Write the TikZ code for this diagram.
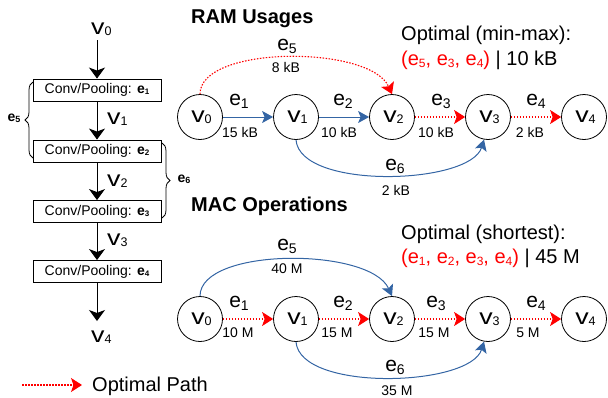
\documentclass[tikz,border=0pt]{standalone}
\usepackage{fontspec}
\setmainfont{Liberation Sans}
\usepackage{graphicx}
\usetikzlibrary{arrows.meta,decorations.pathreplacing}
\definecolor{myblue}{RGB}{52,101,164}
\definecolor{myred}{RGB}{255,0,0}
\newcommand\fs[1]{\fontsize{#1}{#1}\selectfont}
\newcommand\vsub[1]{{\fs{22}\scalebox{1.22}[1]{v}}\raisebox{-1pt}{\fs{12.5}#1}}
\newcommand\esub[1]{{\fs{21}e}\raisebox{-3pt}{\fs{14}#1}}
\newcommand\eopt[1]{e\raisebox{-2pt}{\fs{12}#1}}
\newcommand\ebox[1]{\textbf{e}\raisebox{-1pt}{\fs{8}\textbf{#1}}}
\newcommand\ebr[1]{{\fs{14}\textbf{e}}\raisebox{-1pt}{\fs{9}\textbf{#1}}}
\begin{document}
\begin{tikzpicture}[x=1pt,y=-1pt,
  vnode/.style={circle,draw,line width=0.8pt,minimum size=45pt,inner sep=0pt},
  convbox/.style={draw,line width=0.9pt,minimum width=128pt,minimum height=22pt,inner sep=0pt,font=\fs{14}},
  flow/.style={line width=1pt,-{Stealth[length=11pt,width=16pt,inset=3pt]}},
  blueedge/.style={myblue,line width=1pt,-{Stealth[length=11pt,width=12pt,inset=2.5pt]}},
  optedge/.style={draw=myred,line width=1.1pt,dash pattern=on 1.5pt off 1.5pt,-{Stealth[length=11pt,width=14pt,inset=2.5pt,fill=myred]}},
  elab/.style={anchor=base,inner sep=0pt},
  vallab/.style={anchor=base,inner sep=0pt,font=\fs{14}},
  txt/.style={anchor=base west,inner sep=0pt,font=\fs{20}},
  ttl/.style={anchor=base west,inner sep=0pt,font=\fs{20}\bfseries},
  brace/.style={line width=0.8pt,decorate,decoration={brace,amplitude=8pt}}
]
\useasboundingbox (0,0) rectangle (608,397);

% ---------- left column ----------
\node[anchor=base west,inner sep=0pt] (lv0) at (91,34) {\vsub{0}};
\coordinate (a0) at (97,40);
\node[convbox] (b1) at (97,90) {Conv/Pooling: \ebox{1}};
\node[anchor=base west,inner sep=0pt] (lv1) at (107,124) {\vsub{1}};
\node[convbox] (b2) at (97,151) {Conv/Pooling: \ebox{2}};
\node[anchor=base west,inner sep=0pt] (lv2) at (107,186) {\vsub{2}};
\node[convbox] (b3) at (97,211.5) {Conv/Pooling: \ebox{3}};
\node[anchor=base west,inner sep=0pt] (lv3) at (107,245) {\vsub{3}};
\node[convbox] (b4) at (97,271.5) {Conv/Pooling: \ebox{4}};
\coordinate (a5) at (97,321);
\node[anchor=base west,inner sep=0pt] (lv4) at (91,342) {\vsub{4}};
\draw[flow] (a0) -- (b1.north);
\draw[flow] (b1.south) -- (b2.north);
\draw[flow] (b2.south) -- (b3.north);
\draw[flow] (b3.south) -- (b4.north);
\draw[flow] (b4.south) -- (a5);

\coordinate (br5a) at (33,158);
\coordinate (br5b) at (33,82);
\draw[brace] (br5a) -- (br5b);
\node[inner sep=0pt] (le5) at (14,118) {\ebr{5}};
\coordinate (br6a) at (162,143);
\coordinate (br6b) at (162,218);
\draw[brace] (br6a) -- (br6b);
\node[inner sep=0pt] (le6) at (184,179) {\ebr{6}};

% ---------- RAM usages ----------
\node[ttl] (t1) at (191,23) {RAM Usages};
\node[txt] (o1) at (401,40) {Optimal (min-max):};
\node[txt] (o1b) at (401,65) {\textcolor{myred}{(\eopt{5}, \eopt{3}, \eopt{4})} | 10 kB};

\node[vnode] (n0) at (200,117) {\hspace{3pt}\vsub{0}};
\node[vnode] (n1) at (296,117) {\hspace{3pt}\vsub{1}};
\node[vnode] (n2) at (392,117) {\hspace{3pt}\vsub{2}};
\node[vnode] (n3) at (488,117) {\hspace{3pt}\vsub{3}};
\node[vnode] (n4) at (584,117) {\hspace{3pt}\vsub{4}};

\draw[blueedge] (n0) -- (n1);
\draw[blueedge] (n1) -- (n2);
\draw[optedge] (n2) -- (n3);
\draw[optedge] (n3) -- (n4);
\draw[optedge] (n0.north) .. controls (200,45) and (370,45) .. (n2.north);
\draw[blueedge] (n1.south) .. controls (300,190) and (470,185) .. (n3.260);

\node[elab] (r1) at (239,105) {\esub{1}};
\node[vallab] (r1v) at (240,137) {15 kB};
\node[elab] (r2) at (343,105) {\esub{2}};
\node[vallab] (r2v) at (339,137) {10 kB};
\node[elab] (r3) at (441,105) {\esub{3}};
\node[vallab] (r3v) at (436,137) {10 kB};
\node[elab] (r4) at (536,105) {\esub{4}};
\node[vallab] (r4v) at (530,137) {2 kB};
\node[elab] (r5) at (287,50) {\esub{5}};
\node[vallab] (r5v) at (286,72) {8 kB};
\node[elab] (r6) at (395,170) {\esub{6}};
\node[vallab] (r6v) at (396,195) {2 kB};

% ---------- MAC operations ----------
\node[ttl] (t2) at (191,211) {MAC Operations};
\node[txt] (o2) at (401,239) {Optimal (shortest):};
\node[txt] (o2b) at (401,263) {\textcolor{myred}{(\eopt{1}, \eopt{2}, \eopt{3}, \eopt{4})} | 45 M};

\node[vnode] (m0) at (200,319) {\hspace{3pt}\vsub{0}};
\node[vnode] (m1) at (296,319) {\hspace{3pt}\vsub{1}};
\node[vnode] (m2) at (392,319) {\hspace{3pt}\vsub{2}};
\node[vnode] (m3) at (488,319) {\hspace{3pt}\vsub{3}};
\node[vnode] (m4) at (584,319) {\hspace{3pt}\vsub{4}};

\draw[optedge] (m0) -- (m1);
\draw[optedge] (m1) -- (m2);
\draw[optedge] (m2) -- (m3);
\draw[optedge] (m3) -- (m4);
\draw[blueedge] (m0.north) .. controls (200,247) and (370,247) .. (m2.north);
\draw[blueedge] (m1.south) .. controls (300,392) and (470,387) .. (m3.260);

\node[elab] (s1) at (239,307) {\esub{1}};
\node[vallab] (s1v) at (238,337) {10 M};
\node[elab] (s2) at (343,307) {\esub{2}};
\node[vallab] (s2v) at (337,337) {15 M};
\node[elab] (s3) at (436,307) {\esub{3}};
\node[vallab] (s3v) at (434,337) {15 M};
\node[elab] (s4) at (536,307) {\esub{4}};
\node[vallab] (s4v) at (528,337) {5 M};
\node[elab] (s5) at (287,250) {\esub{5}};
\node[vallab] (s5v) at (287,273) {40 M};
\node[elab] (s6) at (395,371) {\esub{6}};
\node[vallab] (s6v) at (397,395) {35 M};

% ---------- legend ----------
\coordinate (lg1) at (22,385);
\coordinate (lg2) at (82,385);
\draw[optedge] (lg1) -- (lg2);
\node[txt] (lgt) at (92,391) {Optimal Path};
\end{tikzpicture}
\end{document}
